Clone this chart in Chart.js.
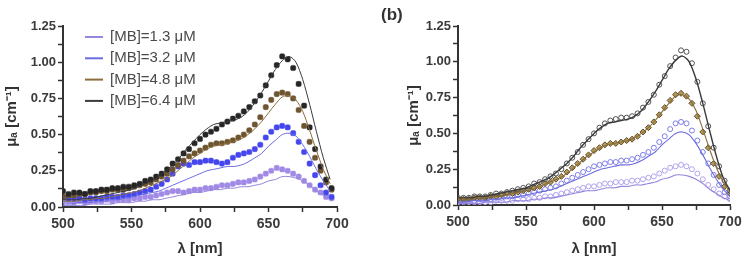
<!DOCTYPE html>
<html>
<head>
<meta charset="utf-8">
<script src="https://cdn.jsdelivr.net/npm/chart.js@4.4.1/dist/chart.umd.min.js"></script>
<style>
  html, body { margin: 0; padding: 0; background: #fff; }
  .panel { position: absolute; top: 0; width: 374px; height: 266px; }
</style>
</head>
<body>
<div class="panel" style="left:0"><canvas id="chartA" width="374" height="266"></canvas></div>
<div class="panel" style="left:374px"><canvas id="chartB" width="374" height="266"></canvas></div>
<script>
const seriesLabels = ['[MB]=1.3 μM', '[MB]=3.2 μM', '[MB]=4.8 μM', '[MB]=6.4 μM'];

// fitted curves (nm, every 5)
const fitX = [500,505,510,515,520,525,530,535,540,545,550,555,560,565,570,575,580,585,590,595,600,605,610,615,620,625,630,635,640,645,650,655,660,665,670,675,680,685,690,695,700];
const fit13 = [0.01,0.01,0.01,0.01,0.02,0.02,0.02,0.02,0.03,0.03,0.03,0.04,0.04,0.05,0.05,0.06,0.07,0.08,0.09,0.10,0.10,0.11,0.12,0.12,0.13,0.13,0.14,0.14,0.15,0.16,0.18,0.19,0.21,0.21,0.20,0.18,0.15,0.11,0.08,0.05,0.03];
const fit32 = [0.02,0.02,0.03,0.03,0.03,0.04,0.04,0.05,0.05,0.06,0.07,0.08,0.09,0.10,0.11,0.13,0.15,0.17,0.19,0.21,0.23,0.25,0.26,0.27,0.28,0.28,0.29,0.31,0.34,0.37,0.42,0.46,0.50,0.51,0.49,0.43,0.35,0.26,0.18,0.11,0.06];
const fit48 = [0.04,0.04,0.04,0.05,0.05,0.06,0.06,0.07,0.08,0.09,0.10,0.11,0.13,0.15,0.17,0.19,0.22,0.26,0.30,0.34,0.37,0.40,0.42,0.43,0.44,0.45,0.47,0.50,0.54,0.59,0.65,0.71,0.76,0.77,0.74,0.66,0.53,0.39,0.26,0.16,0.09];
const fit64 = [0.05,0.05,0.05,0.06,0.06,0.07,0.08,0.09,0.10,0.11,0.12,0.14,0.16,0.18,0.21,0.25,0.29,0.34,0.40,0.45,0.50,0.54,0.57,0.58,0.59,0.60,0.62,0.66,0.72,0.79,0.87,0.95,1.01,1.04,1.00,0.88,0.71,0.52,0.34,0.19,0.10];

// panel (a): measured spectra (nm, every 4)
const measX = [500,504,508,512,516,520,524,528,532,536,540,544,548,552,556,560,564,568,572,576,580,584,588,592,596,600,604,608,612,616,620,624,628,632,636,640,644,648,652,656,660,664,668,672,676,680,684,688,692,696];
const meas13 = [0.04,0.04,0.03,0.04,0.03,0.04,0.04,0.04,0.05,0.04,0.05,0.05,0.05,0.06,0.06,0.07,0.07,0.08,0.09,0.10,0.11,0.11,0.10,0.11,0.12,0.12,0.13,0.13,0.14,0.15,0.15,0.16,0.17,0.17,0.18,0.19,0.21,0.23,0.25,0.27,0.26,0.25,0.23,0.21,0.18,0.15,0.12,0.10,0.07,0.06];
const meas32 = [0.07,0.06,0.06,0.06,0.05,0.06,0.06,0.06,0.07,0.07,0.07,0.08,0.08,0.09,0.10,0.11,0.12,0.14,0.16,0.19,0.23,0.28,0.30,0.29,0.31,0.31,0.32,0.32,0.31,0.30,0.31,0.34,0.36,0.37,0.38,0.40,0.43,0.48,0.52,0.55,0.56,0.55,0.51,0.45,0.38,0.30,0.22,0.15,0.10,0.07];
const meas48 = [0.07,0.08,0.08,0.09,0.09,0.10,0.10,0.11,0.11,0.12,0.12,0.12,0.13,0.14,0.15,0.16,0.17,0.19,0.21,0.23,0.26,0.29,0.32,0.35,0.37,0.39,0.41,0.43,0.44,0.44,0.45,0.46,0.48,0.50,0.53,0.57,0.62,0.69,0.74,0.78,0.79,0.78,0.75,0.67,0.56,0.45,0.34,0.25,0.17,0.12];
const meas64 = [0.11,0.09,0.10,0.10,0.09,0.11,0.11,0.12,0.12,0.13,0.13,0.14,0.14,0.15,0.16,0.18,0.19,0.21,0.23,0.26,0.30,0.33,0.37,0.40,0.44,0.47,0.50,0.52,0.54,0.57,0.59,0.61,0.63,0.66,0.69,0.73,0.77,0.84,0.91,0.98,1.04,1.02,0.96,0.85,0.70,0.55,0.40,0.28,0.19,0.13];

// panel (b): simulated points (nm, every 4)
const simX = [500,504,508,512,516,520,524,528,532,536,540,544,548,552,556,560,564,568,572,576,580,584,588,592,596,600,604,608,612,616,620,624,628,632,636,640,644,648,652,656,660,664,668,672,676,680,684,688,692,696,700];
const sim13 = [0.02,0.02,0.02,0.02,0.02,0.02,0.02,0.03,0.03,0.03,0.03,0.04,0.04,0.04,0.05,0.05,0.06,0.06,0.07,0.08,0.09,0.10,0.11,0.12,0.13,0.13,0.14,0.15,0.15,0.16,0.16,0.16,0.17,0.17,0.18,0.19,0.20,0.22,0.24,0.26,0.27,0.28,0.27,0.25,0.22,0.18,0.14,0.11,0.08,0.06,0.04];
const sim32 = [0.03,0.03,0.03,0.03,0.04,0.04,0.04,0.05,0.05,0.06,0.06,0.07,0.07,0.08,0.09,0.10,0.11,0.12,0.13,0.15,0.17,0.19,0.21,0.23,0.25,0.27,0.28,0.29,0.30,0.30,0.31,0.31,0.32,0.33,0.35,0.37,0.40,0.44,0.48,0.53,0.57,0.58,0.57,0.52,0.45,0.37,0.29,0.21,0.14,0.09,0.06];
const sim48 = [0.04,0.04,0.04,0.05,0.05,0.05,0.06,0.06,0.07,0.08,0.08,0.09,0.10,0.11,0.12,0.13,0.15,0.16,0.18,0.20,0.23,0.26,0.29,0.32,0.35,0.38,0.40,0.42,0.43,0.43,0.44,0.45,0.46,0.48,0.51,0.54,0.58,0.63,0.68,0.73,0.77,0.78,0.76,0.71,0.62,0.51,0.40,0.29,0.20,0.13,0.08];
const sim64 = [0.05,0.05,0.05,0.06,0.06,0.06,0.07,0.08,0.08,0.09,0.10,0.11,0.12,0.13,0.15,0.16,0.18,0.20,0.22,0.25,0.29,0.33,0.37,0.42,0.46,0.50,0.54,0.57,0.59,0.60,0.61,0.61,0.62,0.64,0.68,0.72,0.77,0.84,0.90,0.97,1.03,1.08,1.07,0.99,0.86,0.71,0.55,0.40,0.27,0.17,0.10];

const lineColors = ['#9685dc', '#6c6ce0', '#8a6d3b', '#3a3a3a'];
const measColors = ['#a08ae6', '#4646ee', '#6e5530', '#262626'];
const simBorders = ['#b0a2ee', '#7c7ce8', '#5e4a2a', '#505050'];
const simFills = ['rgba(255,255,255,0)', 'rgba(255,255,255,0)', '#b39a55', 'rgba(255,255,255,0)'];

Chart.defaults.font.family = '"Liberation Sans", Arial, sans-serif';
Chart.defaults.color = '#3a3a3a';

function toPts(xs, ys) {
  return xs.map((x, i) => ({ x: x, y: ys[i] }));
}

function lineSet(label, pts, color, width) {
  return {
    label: label,
    data: pts,
    showLine: true,
    borderColor: color,
    borderWidth: width,
    pointRadius: 0,
    tension: 0.3,
    order: 0,
  };
}

function scales(yWidth, xHeight) {
  return {
    x: {
      type: 'linear',
      min: 500,
      max: 700,
      afterFit: (s) => { s.height = xHeight; },
      border: { display: true, color: '#333', width: 2 },
      grid: { drawOnChartArea: false, drawTicks: true, tickLength: 5, tickColor: '#333', tickWidth: 1.5 },
      ticks: {
        stepSize: 25,
        padding: 4,
        autoSkip: false,
        maxRotation: 0,
        font: { size: 14, weight: 'bold' },
        color: '#3a3a3a',
        callback: (v) => (v % 50 === 0 ? v : ''),
      },
      title: {
        display: true,
        text: 'λ [nm]',
        font: { size: 15, weight: 'bold' },
        color: '#333',
        padding: { top: 0, bottom: 8 },
      },
    },
    y: {
      min: 0,
      max: 1.25,
      afterFit: (s) => { s.width = yWidth; },
      border: { display: true, color: '#333', width: 2 },
      grid: { drawOnChartArea: false, drawTicks: true, tickLength: 5, tickColor: '#333', tickWidth: 1.5 },
      ticks: {
        stepSize: 0.125,
        padding: 2,
        autoSkip: false,
        font: { size: 13, weight: 'bold' },
        color: '#3a3a3a',
        callback: (v) => (Math.abs(v * 4 - Math.round(v * 4)) < 1e-6 ? v.toFixed(2) : ''),
      },
      title: {
        display: true,
        text: 'μₐ [cm⁻¹]',
        font: { size: 15, weight: 'bold' },
        color: '#333',
        padding: { top: 3, bottom: 0 },
      },
    },
  };
}

const insideLegend = {
  id: 'insideLegend',
  afterDraw(chart) {
    const ctx = chart.ctx;
    ctx.save();
    ctx.font = '15px "Liberation Sans", Arial, sans-serif';
    ctx.textBaseline = 'middle';
    ctx.textAlign = 'left';
    seriesLabels.forEach((label, i) => {
      const y = 37 + i * 21.3;
      ctx.beginPath();
      ctx.strokeStyle = lineColors[i];
      ctx.lineWidth = 2;
      ctx.moveTo(85, y);
      ctx.lineTo(103, y);
      ctx.stroke();
      ctx.fillStyle = '#4a4a4a';
      ctx.fillText(label, 110, y);
    });
    ctx.restore();
  },
};

const panelTag = {
  id: 'panelTag',
  afterDraw(chart) {
    const ctx = chart.ctx;
    ctx.save();
    ctx.font = 'bold 17px "Liberation Sans", Arial, sans-serif';
    ctx.fillStyle = '#333';
    ctx.textBaseline = 'middle';
    ctx.fillText('(b)', 7, 15);
    ctx.restore();
  },
};

// panel (a)
const fitsA = [fit13, fit32, fit48, fit64];
const measA = [meas13, meas32, meas48, meas64];
const dataA = { datasets: [] };
measA.forEach((ys, i) => {
  dataA.datasets.push({
    label: seriesLabels[i] + ' data',
    data: toPts(measX, ys),
    pointStyle: 'rectRounded',
    pointRadius: 3,
    pointBackgroundColor: measColors[i],
    pointBorderColor: measColors[i],
    pointBorderWidth: 0.5,
    showLine: false,
    order: 1 + (3 - i),
  });
});
fitsA.forEach((ys, i) => {
  dataA.datasets.push(lineSet(seriesLabels[i], toPts(fitX, ys).filter((p) => p.x <= 696), lineColors[i], 1));
});

new Chart(document.getElementById('chartA'), {
  type: 'scatter',
  data: dataA,
  options: {
    responsive: false,
    animation: false,
    layout: { padding: { left: 0, right: 37, top: 26, bottom: 0 } },
    plugins: { legend: { display: false }, tooltip: { enabled: false } },
    scales: scales(63, 59),
  },
  plugins: [insideLegend],
});

// panel (b)
const simB = [sim13, sim32, sim48, sim64];
const dataB = { datasets: [] };
simB.forEach((ys, i) => {
  dataB.datasets.push({
    label: seriesLabels[i] + ' sim',
    data: toPts(simX, ys),
    pointStyle: i === 2 ? 'rectRot' : 'circle',
    pointRadius: i === 2 ? 3 : 2.5,
    pointBackgroundColor: simFills[i],
    pointBorderColor: simBorders[i],
    pointBorderWidth: 1,
    showLine: false,
    order: 1 + (3 - i),
  });
});
fitsA.forEach((ys, i) => {
  dataB.datasets.push(lineSet(seriesLabels[i], toPts(fitX, ys), lineColors[i], i === 3 ? 1.4 : 1.1));
});

new Chart(document.getElementById('chartB'), {
  type: 'scatter',
  data: dataB,
  options: {
    responsive: false,
    animation: false,
    layout: { padding: { left: 28, right: 18, top: 26, bottom: 0 } },
    plugins: { legend: { display: false }, tooltip: { enabled: false } },
    scales: scales(56, 61),
  },
  plugins: [panelTag],
});
</script>
</body>
</html>
